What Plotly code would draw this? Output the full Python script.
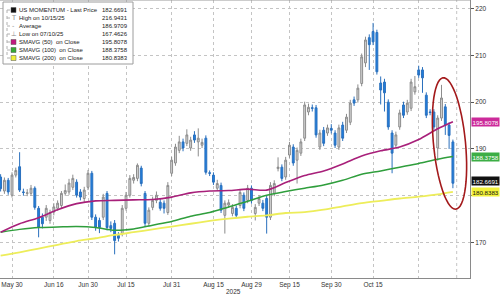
import numpy as np
import pandas as pd
import plotly.graph_objects as go

# ---------------- data ----------------
holidays = ["2025-06-19", "2025-07-04", "2025-09-01"]
dates = [d.strftime("%Y-%m-%d") for d in pd.bdate_range("2025-05-27", "2025-11-13")
         if d.strftime("%Y-%m-%d") not in holidays]

opens = [184.0, 181.0, 183.3, 180.1, 184.4, 186.2, 180.8, 180.5, 180.5, 181.6,
         177.3, 175.4, 175.4, 174.7, 176.5, 177.3, 177.9, 180.5, 180.8, 181.8,
         182.9, 180.8, 179.4, 181.8, 184.8, 175.4, 174.7, 175.4, 180.5, 173.6,
         174.1, 171.5, 171.9, 177.3, 180.1, 183.3, 183.7, 185.9, 180.5, 174.1,
         177.5, 179.0, 178.6, 178.4, 176.4, 184.8, 187.0, 189.7, 191.5, 191.2,
         190.2, 193.0, 191.5, 190.8, 192.3, 184.9, 184.4, 181.6, 182.2, 175.8,
         178.0, 176.2, 177.3, 177.9, 180.1, 179.0, 181.6, 176.2, 178.4, 178.4,
         179.4, 175.4, 180.5, 185.8, 186.1, 184.0, 188.7, 190.4, 187.6, 189.1,
         192.3, 197.9, 198.8, 198.8, 190.4, 194.0, 193.4, 194.4, 193.4, 190.4,
         195.1, 194.0, 195.7, 200.5, 200.5, 204.0, 208.4, 213.8, 215.1, 214.9,
         204.1, 204.3, 200.0, 193.4, 190.8, 194.7, 199.4, 197.9, 198.7, 202.2,
         206.9, 206.9, 201.5, 197.9, 197.9, 190.2, 196.6, 199.0, 195.1, 191.5]
closes = [181.5, 183.3, 180.8, 184.4, 185.4, 181.2, 180.7, 180.6, 181.6, 177.5,
          173.2, 174.0, 177.3, 176.4, 177.6, 178.4, 180.5, 181.1, 182.7, 183.7,
          180.1, 179.7, 181.2, 184.8, 175.4, 173.2, 173.2, 179.7, 173.2, 173.0,
          170.4, 170.9, 177.3, 180.1, 183.7, 183.9, 186.5, 182.6, 174.1, 176.9,
          179.0, 180.1, 177.3, 177.3, 182.2, 187.6, 190.4, 191.5, 190.2, 193.0,
          191.9, 191.9, 192.3, 191.4, 185.0, 184.8, 182.9, 182.6, 176.9, 178.4,
          178.5, 177.5, 175.8, 180.7, 177.3, 181.6, 179.0, 177.5, 179.4, 177.3,
          175.4, 182.2, 182.6, 186.1, 183.7, 187.6, 190.8, 187.0, 189.7, 191.5,
          199.4, 198.9, 198.7, 193.0, 193.4, 191.2, 194.5, 194.0, 190.8, 194.5,
          192.3, 196.8, 199.8, 199.8, 203.0, 209.7, 213.3, 212.3, 212.9, 206.5,
          202.6, 202.0, 194.7, 189.1, 193.0, 197.7, 197.2, 199.8, 204.3, 203.3,
          205.8, 205.2, 197.2, 197.8, 194.7, 196.6, 200.9, 195.1, 192.9, 182.6691]
highs = [184.6, 183.9, 183.8, 185.0, 186.0, 189.3, 181.5, 181.4, 182.3, 182.0,
         177.8, 176.2, 178.0, 177.0, 178.4, 179.0, 181.0, 182.4, 183.6, 184.5,
         183.5, 181.4, 181.9, 185.5, 185.3, 176.0, 175.3, 180.4, 181.0, 174.5,
         174.8, 172.2, 178.0, 180.8, 184.4, 184.6, 186.9, 186.4, 181.0, 177.5,
         179.8, 180.9, 179.3, 179.0, 182.9, 188.3, 191.1, 192.8, 192.2, 194.2,
         192.6, 193.8, 194.4, 192.2, 192.9, 185.4, 185.0, 183.4, 182.8, 179.0,
         179.2, 178.2, 177.9, 181.4, 180.7, 182.3, 182.2, 178.2, 180.1, 179.1,
         180.0, 182.9, 183.3, 188.2, 186.7, 188.3, 191.5, 191.0, 190.3, 192.2,
         200.1, 199.7, 199.5, 199.4, 194.1, 194.7, 195.2, 195.3, 194.0, 195.2,
         195.8, 197.5, 200.5, 201.2, 203.8, 210.4, 214.0, 214.5, 216.9431, 215.5,
         205.5, 205.0, 200.6, 194.0, 193.7, 198.4, 200.1, 200.5, 205.0, 205.6,
         207.8, 207.5, 202.1, 198.5, 198.5, 197.2, 203.7, 199.6, 195.7, 192.0]
lows = [180.9, 180.4, 180.2, 179.6, 183.9, 180.8, 180.0, 179.9, 180.0, 177.0,
        171.1, 173.0, 174.6, 174.0, 175.8, 176.8, 177.3, 180.0, 180.2, 181.2,
        179.6, 179.0, 178.5, 181.2, 174.8, 172.5, 172.0, 174.8, 172.6, 172.2,
        167.4626, 170.2, 171.3, 176.8, 179.6, 182.6, 183.1, 182.0, 173.5, 173.4,
        176.9, 178.4, 176.8, 176.2, 175.9, 184.2, 186.4, 189.1, 189.5, 190.6,
        189.6, 191.3, 188.4, 190.2, 184.5, 184.2, 182.3, 181.0, 176.3, 171.9,
        177.4, 175.6, 175.2, 177.3, 176.7, 178.4, 178.3, 174.7, 177.8, 176.7,
        171.9, 174.8, 179.9, 185.2, 183.1, 183.4, 188.1, 186.4, 182.6, 188.5,
        191.7, 197.2, 198.0, 192.4, 189.8, 190.6, 192.8, 193.3, 190.2, 189.8,
        191.7, 193.4, 195.1, 199.2, 199.9, 203.4, 207.5, 206.9, 212.2, 205.9,
        199.5, 198.0, 194.1, 184.8, 190.2, 194.1, 196.6, 197.3, 198.1, 201.6,
        205.2, 202.0, 196.6, 197.2, 194.1, 187.5, 196.0, 193.0, 190.0, 181.6]

ma_idx = [0, 5, 10, 15, 20, 25, 30, 35, 40, 45, 50, 55, 60, 65, 70, 75, 80, 85,
          90, 95, 100, 105, 110, 115, 119]
sma50 = [172.2, 174.0, 175.3, 177.0, 178.3, 178.9, 179.0, 179.1, 179.2, 179.7,
         180.6, 181.0, 181.1, 181.4, 181.2, 182.8, 184.3, 185.3, 186.8, 188.5,
         189.6, 190.4, 192.0, 194.3, 195.8078]
sma100 = [172.2, 172.8, 173.2, 173.3, 173.4, 173.2, 172.6, 172.9, 173.7, 174.5,
          175.6, 176.4, 177.6, 178.8, 180.1, 180.9, 181.6, 182.3, 183.3, 184.6,
          185.3, 186.1, 186.9, 187.8, 188.3758]
sma200 = [167.2, 167.9, 168.7, 169.5, 170.3, 170.9, 171.6, 172.2, 172.8, 173.4,
          174.0, 174.6, 175.1, 175.5, 175.8, 176.3, 176.5, 177.0, 177.7, 178.4,
          178.9, 179.4, 179.8, 180.3, 180.8383]

tick_dates = ["2025-05-30", "2025-06-16", "2025-06-30", "2025-07-15", "2025-07-31",
              "2025-08-15", "2025-08-29", "2025-09-15", "2025-09-30", "2025-10-15",
              "2025-10-31"]
tick_text = ["May 30", "Jun 16", "Jun 30", "Jul 15", "Jul 31", "Aug 15", "Aug 29",
             "Sep 15", "Sep 30", "Oct 15", ""]
y_ticks = [170, 180, 190, 200, 210, 220]
y_tick_text = ["170", "", "190", "200", "210", "220"]  # 180 sits under the yellow value box

legend_rows = [
    ("US MOMENTUM - Last Price", "182.6691", "sq", "#111111"),
    ("High on 10/15/25", "216.9431", "T", "#888888"),
    ("Average", "186.9709", "-", "#888888"),
    ("Low on 07/10/25", "167.4626", "⊥", "#888888"),
    ("SMAVG (50)  on Close", "195.8078", "sq", "#c2187f"),
    ("SMAVG (100)  on Close", "188.3758", "sq", "#35a834"),
    ("SMAVG (200)  on Close", "180.8383", "sq", "#eeee3a"),
]

# ---------------- layout helpers ----------------
W, H = 500, 294
ML, MR, MT, MB = 0, 30, 0, 16
PW, PH = W - ML - MR, H - MT - MB
def px(x):
    return (x - ML) / PW
def py(y):
    return (PH - (y - MT)) / PH

fig = go.Figure()

fig.add_trace(go.Candlestick(
    x=dates, open=opens, high=highs, low=lows, close=closes,
    increasing=dict(fillcolor="#d6d6d6", line=dict(color="#8c8c8c", width=1)),
    decreasing=dict(fillcolor="#1f7fe0", line=dict(color="#2a70bd", width=1)),
    whiskerwidth=0, showlegend=False, hoverinfo="skip"))

ma_x = [dates[i] for i in ma_idx]
for vals, col, w in [(sma200, "#eded5a", 1.8), (sma100, "#2f9e3c", 1.5), (sma50, "#a8207a", 1.6)]:
    fig.add_trace(go.Scatter(x=ma_x, y=vals, mode="lines",
                             line=dict(color=col, width=w, shape="spline", smoothing=0.8),
                             showlegend=False, hoverinfo="skip"))

shapes = []
# Nov 14 grid line
shapes.append(dict(type="line", xref="x", yref="paper", x0=120, x1=120, y0=0, y1=1,
                   line=dict(color="#c4c4c4", width=1, dash="dot"), layer="below"))
# top border
shapes.append(dict(type="line", xref="paper", yref="paper", x0=0, x1=1, y0=1, y1=1,
                   line=dict(color="#9a9a9a", width=1)))

# red ellipse (tilted)
cx, cy, ea, eb, tilt = 449.5, 143.5, 16.0, 66.0, np.deg2rad(5.5)
t = np.linspace(0, 2 * np.pi, 60)
ux, uy = np.cos(tilt), -np.sin(tilt)
vx, vy = np.sin(tilt), np.cos(tilt)
exs = cx + ea * np.cos(t) * ux + eb * np.sin(t) * vx
eys = cy + ea * np.cos(t) * uy + eb * np.sin(t) * vy
path = "M " + " L ".join(f"{px(a):.4f},{py(b):.4f}" for a, b in zip(exs, eys)) + " Z"
shapes.append(dict(type="path", xref="paper", yref="paper", path=path,
                   line=dict(color="#a3191b", width=1.6)))

# legend box
shapes.append(dict(type="rect", xref="paper", yref="paper", x0=px(3), x1=px(133),
                   y0=py(64), y1=py(2), fillcolor="white",
                   line=dict(color="#9c9c9c", width=1)))
row_y = [10, 18, 26, 34, 42, 50, 58]
shapes.append(dict(type="line", xref="paper", yref="paper", x0=px(7), x1=px(7),
                   y0=py(row_y[0]), y1=py(row_y[-1]),
                   line=dict(color="#b0b0b0", width=1, dash="dot")))
annotations = []
for (label, val, icon, col), yy in zip(legend_rows, row_y):
    shapes.append(dict(type="line", xref="paper", yref="paper", x0=px(7), x1=px(10),
                       y0=py(yy), y1=py(yy), line=dict(color="#b0b0b0", width=1, dash="dot")))
    if icon == "sq":
        shapes.append(dict(type="rect", xref="paper", yref="paper", x0=px(11), x1=px(16),
                           y0=py(yy + 2.5), y1=py(yy - 2.5), fillcolor=col,
                           line=dict(color="#555555", width=0.5)))
    else:
        annotations.append(dict(xref="paper", yref="paper", x=px(13.5), y=py(yy), text=icon,
                                showarrow=False, xanchor="center", yanchor="middle",
                                font=dict(size=6.5, color=col, family="DejaVu Sans")))
    annotations.append(dict(xref="paper", yref="paper", x=px(18), y=py(yy), text=label,
                            showarrow=False, xanchor="left", yanchor="middle", borderpad=0,
                            font=dict(size=6, color="#222222", family="Liberation Sans")))
    annotations.append(dict(xref="paper", yref="paper", x=px(129), y=py(yy), text=val,
                            showarrow=False, xanchor="right", yanchor="middle", borderpad=0,
                            font=dict(size=6, color="#222222", family="Liberation Sans")))

# right-side value boxes
for yv, txt, bg, fg in [(sma50[-1], "195.8078", "#cc2a9a", "white"),
                        (sma100[-1], "188.3758", "#3cae45", "white"),
                        (183.1, "182.6691", "#111111", "white"),
                        (180.8, "180.8383", "#f2f23a", "#111111")]:
    annotations.append(dict(xref="paper", yref="y", x=1, y=yv, text=txt, showarrow=False,
                            xanchor="left", yanchor="middle", xshift=1,
                            bgcolor=bg, borderpad=0.5,
                            font=dict(size=6.2, color=fg, family="Liberation Sans")))

annotations.append(dict(xref="paper", yref="paper", x=px(233), y=py(291), text="2025",
                        showarrow=False, xanchor="center", yanchor="middle",
                        font=dict(size=6.5, color="#333333", family="Liberation Sans")))

fig.update_layout(
    width=W, height=H, margin=dict(l=ML, r=MR, t=MT, b=MB),
    paper_bgcolor="white", plot_bgcolor="white",
    shapes=shapes, annotations=annotations, showlegend=False,
    xaxis=dict(type="category", range=[-0.16, 123.5], rangeslider=dict(visible=False),
               tickvals=tick_dates, ticktext=tick_text, tickangle=0,
               showgrid=True, gridcolor="#c4c4c4", griddash="dot", gridwidth=1,
               showline=True, linecolor="#8a8a8a", linewidth=1, ticks="",
               tickfont=dict(size=6.5, color="#333333", family="Liberation Sans"),
               automargin=False),
    yaxis=dict(side="right", range=[162.4, 221.85], tickvals=y_ticks, ticktext=y_tick_text,
               showgrid=True, gridcolor="#c4c4c4", griddash="dot", gridwidth=1,
               showline=True, linecolor="#8a8a8a", linewidth=1,
               ticks="outside", ticklen=3, tickcolor="#555555",
               tickfont=dict(size=6.5, color="#333333", family="Liberation Sans"),
               zeroline=False, automargin=False),
)

fig.write_html("out.html")
